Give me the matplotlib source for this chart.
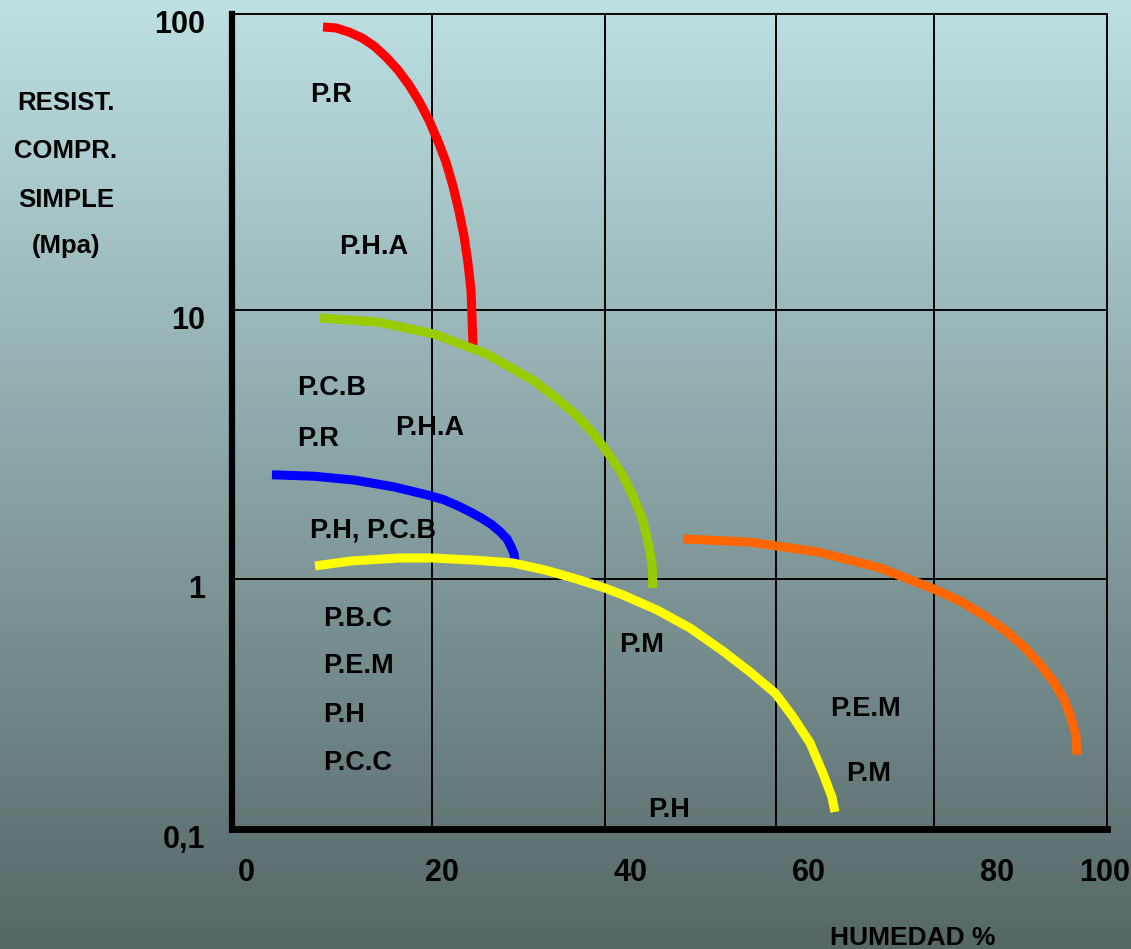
import numpy as np
import matplotlib
matplotlib.use("Agg")
import matplotlib.pyplot as plt
from matplotlib import transforms

plt.rcParams["font.family"] = ["Liberation Sans", "DejaVu Sans"]
plt.rcParams["font.weight"] = "bold"

# Humidity (%) vs. uniaxial compressive strength (MPa) envelopes
red_x = [10.40, 11.89, 13.37, 14.86, 16.23, 17.60, 18.97, 20.23, 21.37, 22.51,
         23.54, 24.46, 25.26, 25.94, 26.51, 26.97, 27.31, 27.43, 27.54]
red_y = [90.4, 89.7, 86.9, 83.0, 78.0, 71.6, 64.7, 57.6, 50.8, 43.8,
         37.2, 31.6, 26.2, 21.6, 17.8, 14.4, 11.7, 9.42, 7.41]

green_x = [10.06, 16.69, 23.09, 29.14, 34.51, 36.91, 39.20, 41.26, 42.97,
           44.57, 45.83, 46.86, 47.54, 48.00, 48.11]
green_y = [9.34, 9.02, 8.14, 6.86, 5.45, 4.75, 4.11, 3.49, 2.94,
           2.46, 2.03, 1.69, 1.38, 1.14, 0.920]

blue_x = [4.57, 9.37, 14.06, 18.51, 22.40, 24.23, 25.83, 27.31, 28.57,
          29.71, 30.63, 31.43, 31.89, 32.23, 32.34]
blue_y = [2.44, 2.41, 2.33, 2.20, 2.05, 1.97, 1.87, 1.77, 1.68,
          1.59, 1.50, 1.41, 1.32, 1.24, 1.16]

yellow_x = [9.49, 13.49, 19.09, 22.86, 27.43, 32.11, 35.77, 39.20, 42.63,
            44.69, 48.57, 52.34, 56.11, 59.20, 62.06, 64.11, 66.06, 67.54,
            68.57, 68.91]
yellow_y = [1.118, 1.166, 1.197, 1.197, 1.177, 1.147, 1.080, 1.004, 0.920,
            0.863, 0.752, 0.637, 0.515, 0.425, 0.350, 0.281, 0.221, 0.167,
            0.134, 0.117]

orange_x = [51.54, 59.31, 66.97, 74.06, 80.46, 83.43, 86.06, 88.46, 90.51,
            92.34, 93.83, 95.09, 95.89, 96.46, 96.57]
orange_y = [1.41, 1.37, 1.26, 1.10, 0.904, 0.809, 0.711, 0.619, 0.535,
            0.457, 0.391, 0.331, 0.279, 0.235, 0.198]

grid_x = [22.9, 42.6, 62.2, 80.2]
grid_y = [1, 10]

xtick_pos = [1.6, 24.0, 45.5, 65.9, 87.4, 99.7]
xtick_labels = ["0", "20", "40", "60", "80", "100"]
ytick_vals = [0.1, 1, 10, 100]
ytick_labels = ["0,1", "1", "10", "100"]

zone_labels = ["P.R", "P.H.A", "P.C.B", "P.R", "P.H.A", "P.H, P.C.B",
               "P.B.C", "P.E.M", "P.H", "P.C.C", "P.M", "P.H", "P.E.M", "P.M"]
zone_pos = [(0.089, 0.892), (0.122, 0.706), (0.074, 0.533), (0.074, 0.470),
            (0.186, 0.483), (0.089, 0.358), (0.104, 0.249), (0.104, 0.191),
            (0.104, 0.131), (0.104, 0.072), (0.442, 0.217), (0.475, 0.015),
            (0.683, 0.139), (0.702, 0.059)]

# stretched decade axis: each decade gets its own height
LOG_KNOTS = [-1, 0, 1, 2]
H_KNOTS = [0, 250, 519, 815]


def fwd(y):
    y = np.clip(np.asarray(y, dtype=float), 1e-9, None)
    return np.interp(np.log10(y), LOG_KNOTS, H_KNOTS)


def inv(h):
    return 10 ** np.interp(h, H_KNOTS, LOG_KNOTS)


fig = plt.figure(figsize=(11.31, 9.49), dpi=100)

# vertical background gradient
bg = fig.add_axes([0, 0, 1, 1], zorder=-10)
top = np.array([189, 224, 227]) / 255
bot = np.array([86, 103, 103]) / 255
t = np.linspace(0, 1, 256)[:, None]
grad = top[None, :] * (1 - t) + bot[None, :] * t
bg.imshow(grad[:, None, :], aspect="auto", extent=[0, 1, 0, 1])
bg.axis("off")

ax = fig.add_axes([232 / 1131, 1 - 829 / 949, 875 / 1131, 815 / 949])
ax.set_facecolor("none")
ax.set_yscale("function", functions=(fwd, inv))
ax.set_xlim(0, 100)
ax.set_ylim(0.1, 100)

for gx in grid_x:
    ax.axvline(gx, color="black", lw=1.4, zorder=1)
for gy in grid_y:
    ax.axhline(gy, color="black", lw=1.4, zorder=1)

for xs, ys, c in [(red_x, red_y, "#ff0000"),
                  (blue_x, blue_y, "#0000ff"),
                  (green_x, green_y, "#99cc00"),
                  (yellow_x, yellow_y, "#ffff00"),
                  (orange_x, orange_y, "#ff6600")]:
    ax.plot(xs, ys, color=c, lw=6.5, solid_capstyle="butt",
            solid_joinstyle="round", zorder=3)

for txt, (fx, fy) in zip(zone_labels, zone_pos):
    ax.text(fx, fy, txt, transform=ax.transAxes, fontsize=19.5,
            ha="left", va="baseline", zorder=4)

ax.spines["left"].set_linewidth(4.5)
ax.spines["bottom"].set_linewidth(5)
ax.spines["top"].set_linewidth(1.4)
ax.spines["right"].set_linewidth(1.4)
for s in ax.spines.values():
    s.set_color("black")

ax.set_xticks(xtick_pos, xtick_labels)
ax.tick_params(axis="x", length=0, pad=21, labelsize=22)
ax.set_yticks(ytick_vals, [""] * len(ytick_vals))
ax.tick_params(axis="y", length=0)
ax.minorticks_off()

ytrans = transforms.blended_transform_factory(ax.transAxes, ax.transData)
ytrans = ytrans + transforms.ScaledTranslation(0, -0.19, fig.dpi_scale_trans)
for v, lab in zip(ytick_vals, ytick_labels):
    ax.text(-0.031, v, lab, transform=ytrans, fontsize=22,
            ha="right", va="baseline", clip_on=False)

for line, yb in zip(["RESIST.", "COMPR.", "SIMPLE", "(Mpa)"],
                    [110, 158, 207, 253]):
    fig.text(66 / 1131, 1 - yb / 949, line, fontsize=18.5,
             ha="center", va="baseline")

fig.text(913 / 1131, 1 - 945 / 949, "HUMEDAD %", fontsize=19,
         ha="center", va="baseline")

fig.savefig("out.png", dpi=100)
